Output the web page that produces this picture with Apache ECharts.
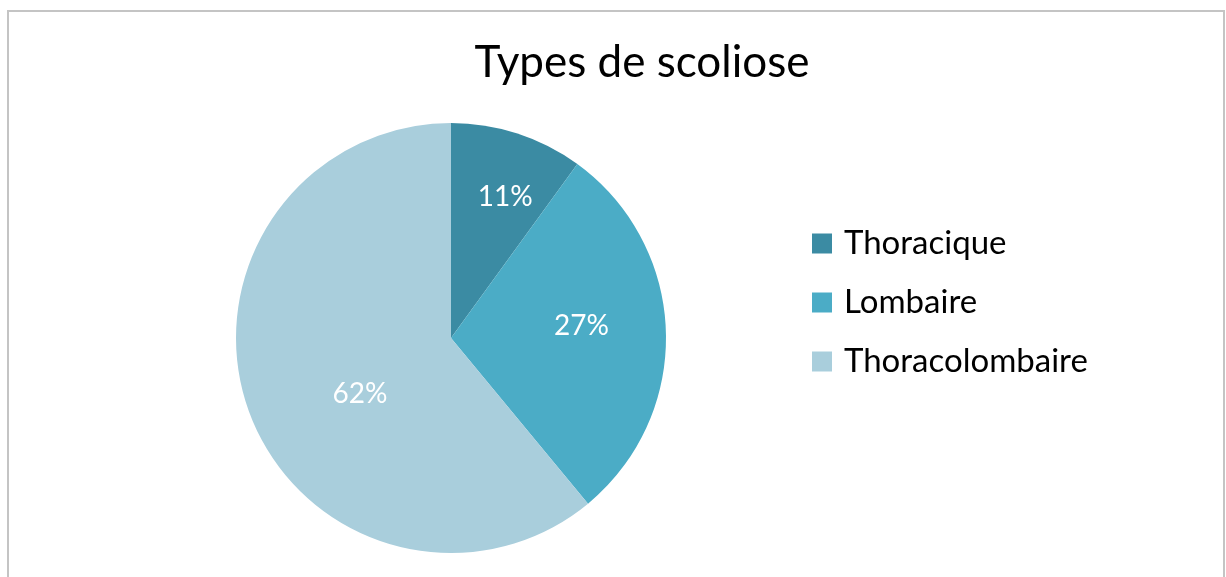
<!DOCTYPE html>
<html>
<head>
<meta charset="utf-8">
<script src="https://cdn.jsdelivr.net/npm/echarts@6/dist/echarts.min.js"></script>
<style>
  html, body { margin: 0; padding: 0; background: #fff; }
  #pieChart { width: 1226px; height: 577px; }
</style>
</head>
<body>
<div id="pieChart"></div>
<script>
const categories = ['Thoracique', 'Lombaire', 'Thoracolombaire'];
const values = [10, 29, 61];
const pctLabels = ['11%', '27%', '62%'];
const colors = ['#3B8BA3', '#4BACC6', '#A9CEDC'];

const fontFamily = 'Lato, "Open Sans", sans-serif';

// nudge the inside labels to where the original puts them
const labelNudge = [[20, -36], [20, -9], [13, 19]];

const pieChart = echarts.init(document.getElementById('pieChart'));

const option = {
  color: colors,
  animation: false,
  title: {
    text: 'Types de scoliose',
    left: 637,
    textAlign: 'center',
    top: 36,
    textStyle: {
      fontFamily: fontFamily,
      fontSize: 44,
      fontWeight: 'normal',
      color: '#000'
    }
  },
  legend: {
    orient: 'vertical',
    left: 807,
    top: 222,
    itemWidth: 20,
    itemHeight: 20,
    itemGap: 26,
    icon: 'rect',
    data: categories,
    textStyle: {
      fontFamily: fontFamily,
      fontSize: 33,
      color: '#000',
      padding: [0, 0, 0, 7]
    }
  },
  graphic: [
    {
      type: 'rect',
      shape: { x: 8, y: 11, width: 1216, height: 600 },
      style: { fill: 'none', stroke: '#c4c4c4', lineWidth: 2 },
      silent: true
    }
  ],
  series: [
    {
      name: 'Types de scoliose',
      type: 'pie',
      radius: 215,
      center: [451, 338],
      startAngle: 90,
      clockwise: true,
      labelLine: { show: false },
      label: {
        show: true,
        position: 'inside',
        color: '#fff',
        fontFamily: fontFamily,
        fontSize: 28,
        formatter: function (p) { return pctLabels[p.dataIndex]; }
      },
      emphasis: { disabled: true },
      data: categories.map(function (name, i) {
        return { name: name, value: values[i], label: { offset: labelNudge[i] } };
      })
    }
  ]
};

pieChart.setOption(option);
</script>
</body>
</html>
